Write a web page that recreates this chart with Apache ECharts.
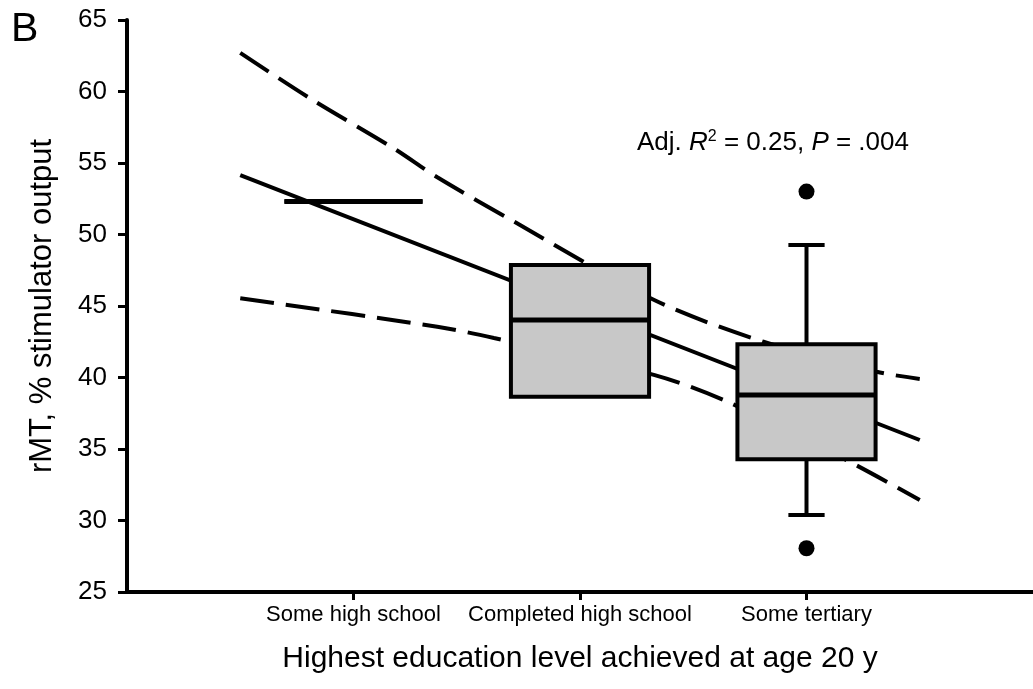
<!DOCTYPE html>
<html>
<head>
<meta charset="utf-8">
<script src="https://cdn.jsdelivr.net/npm/echarts@6/dist/echarts.min.js"></script>
<style>
html,body{margin:0;padding:0;background:#fff;}
#c{width:1033px;height:689px;}
</style>
</head>
<body>
<div id="c"></div>
<script>
// ---- data ----
const categories = ['Some high school', 'Completed high school', 'Some tertiary'];
const categoryPos = [1, 2, 3];
const boxMin    = [52.3, 38.66, 30.38];
const boxQ1     = [52.3, 38.66, 34.28];
const boxMedian = [52.3, 44.02, 38.78];
const boxQ3     = [52.3, 47.87, 42.32];
const boxMax    = [52.3, 47.87, 49.27];
const outliers  = [[3, 53.0], [3, 28.06]];
const regLine   = [[0.5, 54.16], [3.5, 35.63]];
const ciUpper   = [[0.5, 62.7], [0.81, 59.5], [1.18, 56.0], [1.37, 54.0], [1.72, 50.8], [2.33, 45.4], [2.81, 42.5], [3.31, 40.4], [3.5, 39.9]];
const ciLower   = [[0.5, 45.54], [1.37, 43.55], [1.62, 42.76], [2.33, 40.17], [2.65, 38.31], [3.19, 34.11], [3.5, 31.43]];
const yMin = 25, yMax = 65, yStep = 5;

const boxData = categoryPos.map((x, i) => [x, boxMin[i], boxQ1[i], boxMedian[i], boxQ3[i], boxMax[i]]);

const FONT = '"Liberation Sans", Arial, sans-serif';
const BOX_W = 0.61, CAP_W = 0.16;

const chart = echarts.init(document.getElementById('c'), null, {renderer: 'canvas'});
chart.setOption({
  backgroundColor: '#fff',
  animation: false,
  title: [
    {text: 'B', left: 6, top: 4, textStyle: {fontFamily: FONT, fontSize: 41, fontWeight: 'normal', color: '#000'}},
    {
      text: '{n|Adj. }{i|R}{s|2}{n| = 0.25, }{i|P}{n| = .004}',
      left: 632, top: 124,
      textStyle: {
        fontFamily: FONT, fontSize: 26, fontWeight: 'normal', color: '#000',
        rich: {
          n: {fontFamily: FONT, fontSize: 26, color: '#000'},
          i: {fontFamily: FONT, fontSize: 26, color: '#000', fontStyle: 'italic'},
          s: {fontFamily: FONT, fontSize: 16, color: '#000', verticalAlign: 'top', padding: [0, 0, 12, 0]}
        }
      }
    }
  ],
  grid: {left: 127, right: -8, top: 20, bottom: 97, containLabel: false},
  xAxis: {
    type: 'value', min: 0, max: 4, interval: 1,
    name: 'Highest education level achieved at age 20 y',
    nameLocation: 'middle', nameGap: 52,
    nameTextStyle: {fontFamily: FONT, fontSize: 30, color: '#000'},
    axisLine: {show: true, onZero: false, lineStyle: {color: '#000', width: 4}},
    axisTick: {show: true, customValues: categoryPos, length: 8, lineStyle: {color: '#000', width: 3}},
    axisLabel: {
      customValues: categoryPos, margin: 12,
      fontFamily: FONT, fontSize: 22, color: '#000',
      formatter: v => categories[categoryPos.indexOf(v)] || ''
    },
    splitLine: {show: false}
  },
  yAxis: {
    type: 'value', min: yMin, max: yMax, interval: yStep,
    name: 'rMT, % stimulator output',
    nameLocation: 'middle', nameGap: 69, nameRotate: 90,
    nameTextStyle: {fontFamily: FONT, fontSize: 31, color: '#000'},
    axisLine: {show: true, onZero: false, lineStyle: {color: '#000', width: 4}},
    axisTick: {show: true, length: 9, lineStyle: {color: '#000', width: 3}},
    axisLabel: {margin: 20, fontFamily: FONT, fontSize: 26, color: '#000'},
    splitLine: {show: false}
  },
  series: [
    {type: 'line', data: ciUpper, smooth: 0.3, symbol: 'none', z: 2,
     lineStyle: {color: '#000', width: 4, type: [34, 12]}},
    {type: 'line', data: ciLower, smooth: 0.3, symbol: 'none', z: 2,
     lineStyle: {color: '#000', width: 4, type: [34, 12]}},
    {type: 'line', data: regLine, symbol: 'none', z: 2,
     lineStyle: {color: '#000', width: 4}},
    {
      type: 'custom', z: 5,
      data: boxData,
      encode: {x: 0, y: [1, 2, 3, 4, 5]},
      renderItem: function (params, api) {
        const x = api.value(0);
        const mn = api.value(1), q1 = api.value(2), md = api.value(3), q3 = api.value(4), mx = api.value(5);
        const half = api.size([BOX_W, 0])[0] / 2;
        const capHalf = api.size([CAP_W, 0])[0] / 2;
        const pMin = api.coord([x, mn]), pQ1 = api.coord([x, q1]), pMd = api.coord([x, md]);
        const pQ3 = api.coord([x, q3]), pMax = api.coord([x, mx]);
        const cx = pMd[0];
        const ls = {stroke: '#000', lineWidth: 4, fill: null};
        const children = [];
        if (mx > q3) {
          children.push({type: 'line', shape: {x1: cx, y1: pQ3[1], x2: cx, y2: pMax[1]}, style: ls});
          children.push({type: 'line', shape: {x1: cx - capHalf, y1: pMax[1], x2: cx + capHalf, y2: pMax[1]}, style: ls});
        }
        if (mn < q1) {
          children.push({type: 'line', shape: {x1: cx, y1: pQ1[1], x2: cx, y2: pMin[1]}, style: ls});
          children.push({type: 'line', shape: {x1: cx - capHalf, y1: pMin[1], x2: cx + capHalf, y2: pMin[1]}, style: ls});
        }
        children.push({type: 'rect', shape: {x: cx - half, y: pQ3[1], width: 2 * half, height: pQ1[1] - pQ3[1]},
          style: {fill: '#c8c8c8', stroke: '#000', lineWidth: 4}});
        children.push({type: 'line', shape: {x1: cx - half, y1: pMd[1], x2: cx + half, y2: pMd[1]},
          style: {stroke: '#000', lineWidth: 5}});
        return {type: 'group', children: children};
      }
    },
    {type: 'scatter', data: outliers, symbol: 'circle', symbolSize: 16, z: 6,
     itemStyle: {color: '#000', opacity: 1}}
  ]
});
</script>
</body>
</html>
